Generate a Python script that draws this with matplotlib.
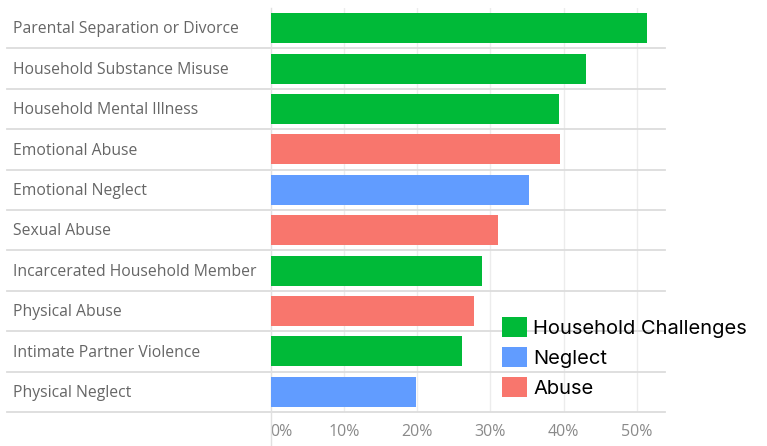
import matplotlib.pyplot as plt
from matplotlib.patches import Patch
from matplotlib.transforms import blended_transform_factory


categories = [
    "Parental Separation or Divorce",
    "Household Substance Misuse",
    "Household Mental Illness",
    "Emotional Abuse",
    "Emotional Neglect",
    "Sexual Abuse",
    "Incarcerated Household Member",
    "Physical Abuse",
    "Intimate Partner Violence",
    "Physical Neglect",
]
values = [51.3, 43.0, 39.3, 39.5, 35.3, 31.1, 28.9, 27.7, 26.1, 19.9]
groups = [
    "Household Challenges",
    "Household Challenges",
    "Household Challenges",
    "Abuse",
    "Neglect",
    "Abuse",
    "Household Challenges",
    "Abuse",
    "Household Challenges",
    "Neglect",
]
group_order = ["Household Challenges", "Neglect", "Abuse"]
group_colors = {
    "Household Challenges": "#00BA38",
    "Neglect": "#619CFF",
    "Abuse": "#F8766D",
}
x_ticks = [0, 10, 20, 30, 40, 50]
x_tick_labels = ["0%", "10%", "20%", "30%", "40%", "50%"]


def main():
    W, H = 767, 446
    fig = plt.figure(figsize=(W / 100, H / 100), dpi=100)
    ax = fig.add_axes([270.5 / W, 1 - 412 / H, (665 - 270.5) / W, (412 - 8) / H])

    ypos = list(range(len(categories)))
    colors = [group_colors[g] for g in groups]
    ax.barh(ypos, values, height=0.74, color=colors, zorder=3)

    ax.set_xlim(0, (665 - 270.5) / 7.33)
    ax.set_ylim(len(categories) - 0.5, -0.5)

    # light vertical gridlines
    for t in x_ticks[1:]:
        ax.axvline(t, color="#ececec", lw=1, zorder=1)

    # row separators spanning label pane and plot
    x0 = (7 - 270.5) / (665 - 270.5)
    for i in range(len(categories)):
        ax.axhline(i + 0.5, xmin=x0, xmax=1, color="#dcdcdc", lw=1.3,
                   clip_on=False, zorder=2)
    ax.axvline(0, ymin=-0.085, ymax=1, color="#e0e0e0", lw=1,
               clip_on=False, zorder=2)

    for s in ax.spines.values():
        s.set_visible(False)

    ax.set_yticks([])
    ax.set_xticks(x_ticks)
    ax.set_xticklabels(x_tick_labels, fontsize=11.5, color="#8a8a8a",
                       family="Open Sans")
    ax.get_xticklabels()[0].set_horizontalalignment("left")
    ax.tick_params(axis="x", length=0, pad=9)

    trans = blended_transform_factory(fig.transFigure, ax.transData)
    for i, name in enumerate(categories):
        ax.text(13 / W, i + 0.03, name, transform=trans, ha="left",
                va="center", fontsize=11.3, color="#666666",
                family="Open Sans")

    handles = [Patch(facecolor=group_colors[g], edgecolor="none", label=g)
               for g in group_order]
    fig.legend(
        handles=handles,
        loc="upper left",
        bbox_to_anchor=(502 / W, 1 - 317 / H),
        frameon=False,
        prop={"family": "Inter", "size": 14.5},
        handlelength=1.25,
        handleheight=1.15,
        handletextpad=0.3,
        labelspacing=0.45,
        borderpad=0,
        borderaxespad=0,
    )

    fig.savefig("out.png", dpi=100)
    plt.close(fig)


if __name__ == "__main__":
    main()
